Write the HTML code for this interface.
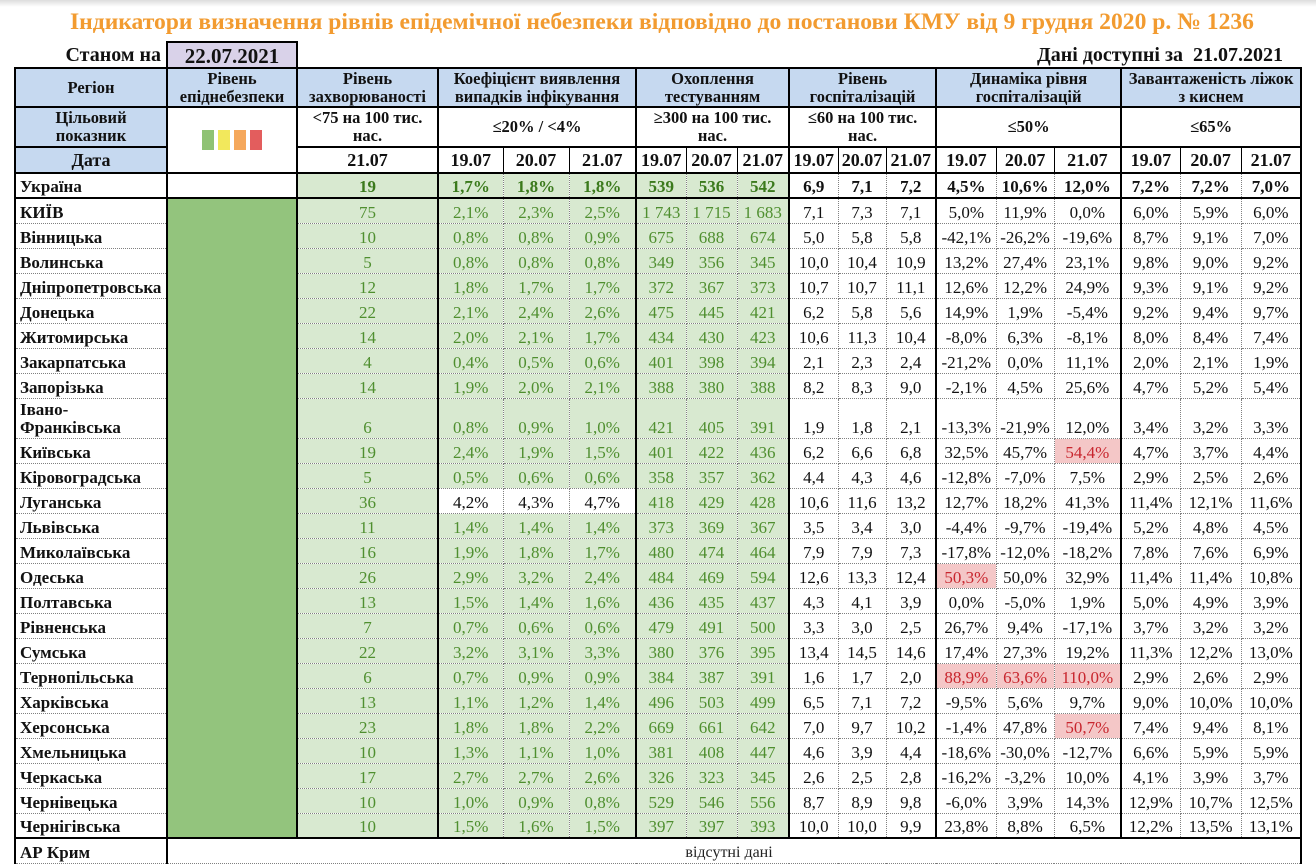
<!DOCTYPE html>
<html>
<head>
<meta charset="utf-8">
<style>
html,body{margin:0;padding:0;}
body{width:1316px;height:864px;overflow:hidden;background:#fff;position:relative;font-family:"Liberation Serif","Noto Serif CJK SC",serif;color:#111;}
.topband{position:absolute;left:0;top:0;width:1316px;height:7px;background:linear-gradient(#dcdcdc,#fff);}
.title{position:absolute;left:4px;width:1316px;top:7px;text-align:center;font-weight:bold;font-size:23.6px;line-height:30px;color:#f29b30;white-space:nowrap;}
.st{position:absolute;left:0;width:161px;top:43px;text-align:right;font-weight:bold;font-size:20px;line-height:25px;}
.datebox{position:absolute;left:166px;top:41px;height:27px;border:2px solid #000;border-bottom:none;background:#d9d2e9;text-align:center;font-weight:bold;font-size:21px;line-height:27px;box-sizing:border-box;width:132px;}
.avail{position:absolute;right:33px;top:43px;font-weight:bold;font-size:20px;line-height:25px;white-space:nowrap;}
table{position:absolute;left:14px;top:67px;border-collapse:collapse;table-layout:fixed;width:1288px;}
td{padding:0;text-align:center;font-size:17px;line-height:19px;white-space:nowrap;overflow:hidden;border:1px dotted #808080;}
thead td{border:2px solid #000;font-weight:bold;font-size:16.5px;line-height:18px;vertical-align:middle;white-space:nowrap;}
tr.h1 td{background:#c6d9f0;}
tr.h2 td{background:#fff;}
tr.h2 td.bl, tr.h3 td.bl{background:#c6d9f0;}
tr.h3 td{font-size:18px;}
tr.h3 td.f{border-right:1px solid #000;}
tr.h3 td.m{border-left:1px solid #000;border-right:1px solid #000;}
tr.h3 td.l{border-left:1px solid #000;}
.sq{display:inline-block;width:12px;height:20px;margin:0 2px;vertical-align:middle;}
tbody td{vertical-align:bottom;padding-bottom:1px;}
tbody td:nth-child(1){text-align:left;padding-left:4px;font-weight:bold;border-left:2px solid #000;}
tbody td:nth-child(1),tbody td:nth-child(2),tbody td:nth-child(3),tbody td:nth-child(6),tbody td:nth-child(9),tbody td:nth-child(12),tbody td:nth-child(15),tbody td:nth-child(18){border-right:2px solid #000;}
tbody td:nth-child(2){background:#93c47d;border-bottom:1px solid #93c47d;}
tbody td:nth-child(n+3):nth-child(-n+9){background:#d8e9d0;color:#4f8f2f;}
tr.uk td{font-weight:bold;border-bottom:2px solid #000 !important;}
tr.uk td:nth-child(2){background:#fff;}
tr.uk td:nth-child(n+3):nth-child(-n+9){color:#3b7a1c;}
tr.lu td:nth-child(n+4):nth-child(-n+6){background:#fff;color:#111;}
td.r{background:#f4c7c7 !important;color:#c8262e !important;}
tr.last td{border-bottom:2px solid #000 !important;}
tr.cr td:nth-child(2){background:#fff;color:#222;font-size:16px;font-weight:normal;border-right:2px solid #000;border-bottom:1px dotted #808080;text-align:center;padding-right:10px;}
tr.iv td:nth-child(1){white-space:normal;line-height:18px;}
</style>
</head>
<body>
<div class="topband"></div>
<div class="title">Індикатори визначення рівнів епідемічної небезпеки відповідно до постанови КМУ від 9 грудня 2020 р. № 1236</div>
<div class="st">Станом на</div>
<div class="datebox">22.07.2021</div>
<div class="avail">Дані доступні за &nbsp;21.07.2021</div>
<table>
<colgroup>
<col style="width:152px"><col style="width:130px"><col style="width:141px">
<col style="width:65px"><col style="width:66px"><col style="width:67px">
<col style="width:50px"><col style="width:51px"><col style="width:52px">
<col style="width:49px"><col style="width:48px"><col style="width:50px">
<col style="width:60px"><col style="width:58px"><col style="width:67px">
<col style="width:59px"><col style="width:61px"><col style="width:60px">
</colgroup>
<thead>
<tr class="h1" style="height:39px">
<td>Регіон</td>
<td>Рівень<br>епіднебезпеки</td>
<td>Рівень<br>захворюваності</td>
<td colspan="3">Коефіцієнт виявлення<br>випадків інфікування</td>
<td colspan="3">Охоплення<br>тестуванням</td>
<td colspan="3">Рівень<br>госпіталізацій</td>
<td colspan="3">Динаміка рівня<br>госпіталізацій</td>
<td colspan="3">Завантаженість ліжок<br>з киснем</td>
</tr>
<tr class="h2" style="height:40px">
<td class="bl">Цільовий<br>показник</td>
<td rowspan="2"><span class="sq" style="background:#8fc274"></span><span class="sq" style="background:#f2e85c"></span><span class="sq" style="background:#f5a85c"></span><span class="sq" style="background:#e35d5d"></span></td>
<td>&lt;75 на 100 тис.<br>нас.</td>
<td colspan="3">≤20% / &lt;4%</td>
<td colspan="3">≥300 на 100 тис.<br>нас.</td>
<td colspan="3">≤60 на 100 тис.<br>нас.</td>
<td colspan="3">≤50%</td>
<td colspan="3">≤65%</td>
</tr>
<tr class="h3" style="height:26px">
<td class="bl">Дата</td>
<td>21.07</td>
<td class="f">19.07</td><td class="m">20.07</td><td class="l">21.07</td>
<td class="f">19.07</td><td class="m">20.07</td><td class="l">21.07</td>
<td class="f">19.07</td><td class="m">20.07</td><td class="l">21.07</td>
<td class="f">19.07</td><td class="m">20.07</td><td class="l">21.07</td>
<td class="f">19.07</td><td class="m">20.07</td><td class="l">21.07</td>
</tr>
</thead>
<tbody>
<tr class="uk" style="height:25px"><td>Україна</td><td></td><td>19</td><td>1,7%</td><td>1,8%</td><td>1,8%</td><td>539</td><td>536</td><td>542</td><td>6,9</td><td>7,1</td><td>7,2</td><td>4,5%</td><td>10,6%</td><td>12,0%</td><td>7,2%</td><td>7,2%</td><td>7,0%</td></tr>
<tr style="height:25px"><td>КИЇВ</td><td></td><td>75</td><td>2,1%</td><td>2,3%</td><td>2,5%</td><td>1 743</td><td>1 715</td><td>1 683</td><td>7,1</td><td>7,3</td><td>7,1</td><td>5,0%</td><td>11,9%</td><td>0,0%</td><td>6,0%</td><td>5,9%</td><td>6,0%</td></tr>
<tr style="height:25px"><td>Вінницька</td><td></td><td>10</td><td>0,8%</td><td>0,8%</td><td>0,9%</td><td>675</td><td>688</td><td>674</td><td>5,0</td><td>5,8</td><td>5,8</td><td>-42,1%</td><td>-26,2%</td><td>-19,6%</td><td>8,7%</td><td>9,1%</td><td>7,0%</td></tr>
<tr style="height:25px"><td>Волинська</td><td></td><td>5</td><td>0,8%</td><td>0,8%</td><td>0,8%</td><td>349</td><td>356</td><td>345</td><td>10,0</td><td>10,4</td><td>10,9</td><td>13,2%</td><td>27,4%</td><td>23,1%</td><td>9,8%</td><td>9,0%</td><td>9,2%</td></tr>
<tr style="height:25px"><td>Дніпропетровська</td><td></td><td>12</td><td>1,8%</td><td>1,7%</td><td>1,7%</td><td>372</td><td>367</td><td>373</td><td>10,7</td><td>10,7</td><td>11,1</td><td>12,6%</td><td>12,2%</td><td>24,9%</td><td>9,3%</td><td>9,1%</td><td>9,2%</td></tr>
<tr style="height:25px"><td>Донецька</td><td></td><td>22</td><td>2,1%</td><td>2,4%</td><td>2,6%</td><td>475</td><td>445</td><td>421</td><td>6,2</td><td>5,8</td><td>5,6</td><td>14,9%</td><td>1,9%</td><td>-5,4%</td><td>9,2%</td><td>9,4%</td><td>9,7%</td></tr>
<tr style="height:25px"><td>Житомирська</td><td></td><td>14</td><td>2,0%</td><td>2,1%</td><td>1,7%</td><td>434</td><td>430</td><td>423</td><td>10,6</td><td>11,3</td><td>10,4</td><td>-8,0%</td><td>6,3%</td><td>-8,1%</td><td>8,0%</td><td>8,4%</td><td>7,4%</td></tr>
<tr style="height:25px"><td>Закарпатська</td><td></td><td>4</td><td>0,4%</td><td>0,5%</td><td>0,6%</td><td>401</td><td>398</td><td>394</td><td>2,1</td><td>2,3</td><td>2,4</td><td>-21,2%</td><td>0,0%</td><td>11,1%</td><td>2,0%</td><td>2,1%</td><td>1,9%</td></tr>
<tr style="height:25px"><td>Запорізька</td><td></td><td>14</td><td>1,9%</td><td>2,0%</td><td>2,1%</td><td>388</td><td>380</td><td>388</td><td>8,2</td><td>8,3</td><td>9,0</td><td>-2,1%</td><td>4,5%</td><td>25,6%</td><td>4,7%</td><td>5,2%</td><td>5,4%</td></tr>
<tr class="iv" style="height:40px"><td>Івано-<br>Франківська</td><td></td><td>6</td><td>0,8%</td><td>0,9%</td><td>1,0%</td><td>421</td><td>405</td><td>391</td><td>1,9</td><td>1,8</td><td>2,1</td><td>-13,3%</td><td>-21,9%</td><td>12,0%</td><td>3,4%</td><td>3,2%</td><td>3,3%</td></tr>
<tr style="height:25px"><td>Київська</td><td></td><td>19</td><td>2,4%</td><td>1,9%</td><td>1,5%</td><td>401</td><td>422</td><td>436</td><td>6,2</td><td>6,6</td><td>6,8</td><td>32,5%</td><td>45,7%</td><td class="r">54,4%</td><td>4,7%</td><td>3,7%</td><td>4,4%</td></tr>
<tr style="height:25px"><td>Кіровоградська</td><td></td><td>5</td><td>0,5%</td><td>0,6%</td><td>0,6%</td><td>358</td><td>357</td><td>362</td><td>4,4</td><td>4,3</td><td>4,6</td><td>-12,8%</td><td>-7,0%</td><td>7,5%</td><td>2,9%</td><td>2,5%</td><td>2,6%</td></tr>
<tr class="lu" style="height:25px"><td>Луганська</td><td></td><td>36</td><td>4,2%</td><td>4,3%</td><td>4,7%</td><td>418</td><td>429</td><td>428</td><td>10,6</td><td>11,6</td><td>13,2</td><td>12,7%</td><td>18,2%</td><td>41,3%</td><td>11,4%</td><td>12,1%</td><td>11,6%</td></tr>
<tr style="height:25px"><td>Львівська</td><td></td><td>11</td><td>1,4%</td><td>1,4%</td><td>1,4%</td><td>373</td><td>369</td><td>367</td><td>3,5</td><td>3,4</td><td>3,0</td><td>-4,4%</td><td>-9,7%</td><td>-19,4%</td><td>5,2%</td><td>4,8%</td><td>4,5%</td></tr>
<tr style="height:25px"><td>Миколаївська</td><td></td><td>16</td><td>1,9%</td><td>1,8%</td><td>1,7%</td><td>480</td><td>474</td><td>464</td><td>7,9</td><td>7,9</td><td>7,3</td><td>-17,8%</td><td>-12,0%</td><td>-18,2%</td><td>7,8%</td><td>7,6%</td><td>6,9%</td></tr>
<tr style="height:25px"><td>Одеська</td><td></td><td>26</td><td>2,9%</td><td>3,2%</td><td>2,4%</td><td>484</td><td>469</td><td>594</td><td>12,6</td><td>13,3</td><td>12,4</td><td class="r">50,3%</td><td>50,0%</td><td>32,9%</td><td>11,4%</td><td>11,4%</td><td>10,8%</td></tr>
<tr style="height:25px"><td>Полтавська</td><td></td><td>13</td><td>1,5%</td><td>1,4%</td><td>1,6%</td><td>436</td><td>435</td><td>437</td><td>4,3</td><td>4,1</td><td>3,9</td><td>0,0%</td><td>-5,0%</td><td>1,9%</td><td>5,0%</td><td>4,9%</td><td>3,9%</td></tr>
<tr style="height:25px"><td>Рівненська</td><td></td><td>7</td><td>0,7%</td><td>0,6%</td><td>0,6%</td><td>479</td><td>491</td><td>500</td><td>3,3</td><td>3,0</td><td>2,5</td><td>26,7%</td><td>9,4%</td><td>-17,1%</td><td>3,7%</td><td>3,2%</td><td>3,2%</td></tr>
<tr style="height:25px"><td>Сумська</td><td></td><td>22</td><td>3,2%</td><td>3,1%</td><td>3,3%</td><td>380</td><td>376</td><td>395</td><td>13,4</td><td>14,5</td><td>14,6</td><td>17,4%</td><td>27,3%</td><td>19,2%</td><td>11,3%</td><td>12,2%</td><td>13,0%</td></tr>
<tr style="height:25px"><td>Тернопільська</td><td></td><td>6</td><td>0,7%</td><td>0,9%</td><td>0,9%</td><td>384</td><td>387</td><td>391</td><td>1,6</td><td>1,7</td><td>2,0</td><td class="r">88,9%</td><td class="r">63,6%</td><td class="r">110,0%</td><td>2,9%</td><td>2,6%</td><td>2,9%</td></tr>
<tr style="height:25px"><td>Харківська</td><td></td><td>13</td><td>1,1%</td><td>1,2%</td><td>1,4%</td><td>496</td><td>503</td><td>499</td><td>6,5</td><td>7,1</td><td>7,2</td><td>-9,5%</td><td>5,6%</td><td>9,7%</td><td>9,0%</td><td>10,0%</td><td>10,0%</td></tr>
<tr style="height:25px"><td>Херсонська</td><td></td><td>23</td><td>1,8%</td><td>1,8%</td><td>2,2%</td><td>669</td><td>661</td><td>642</td><td>7,0</td><td>9,7</td><td>10,2</td><td>-1,4%</td><td>47,8%</td><td class="r">50,7%</td><td>7,4%</td><td>9,4%</td><td>8,1%</td></tr>
<tr style="height:25px"><td>Хмельницька</td><td></td><td>10</td><td>1,3%</td><td>1,1%</td><td>1,0%</td><td>381</td><td>408</td><td>447</td><td>4,6</td><td>3,9</td><td>4,4</td><td>-18,6%</td><td>-30,0%</td><td>-12,7%</td><td>6,6%</td><td>5,9%</td><td>5,9%</td></tr>
<tr style="height:25px"><td>Черкаська</td><td></td><td>17</td><td>2,7%</td><td>2,7%</td><td>2,6%</td><td>326</td><td>323</td><td>345</td><td>2,6</td><td>2,5</td><td>2,8</td><td>-16,2%</td><td>-3,2%</td><td>10,0%</td><td>4,1%</td><td>3,9%</td><td>3,7%</td></tr>
<tr style="height:25px"><td>Чернівецька</td><td></td><td>10</td><td>1,0%</td><td>0,9%</td><td>0,8%</td><td>529</td><td>546</td><td>556</td><td>8,7</td><td>8,9</td><td>9,8</td><td>-6,0%</td><td>3,9%</td><td>14,3%</td><td>12,9%</td><td>10,7%</td><td>12,5%</td></tr>
<tr class="last" style="height:25px"><td>Чернігівська</td><td></td><td>10</td><td>1,5%</td><td>1,6%</td><td>1,5%</td><td>397</td><td>397</td><td>393</td><td>10,0</td><td>10,0</td><td>9,9</td><td>23,8%</td><td>8,8%</td><td>6,5%</td><td>12,2%</td><td>13,5%</td><td>13,1%</td></tr>
<tr class="cr" style="height:25px"><td>АР Крим</td><td colspan="17">відсутні дані</td></tr>
</tbody>
</table>
</body>
</html>
